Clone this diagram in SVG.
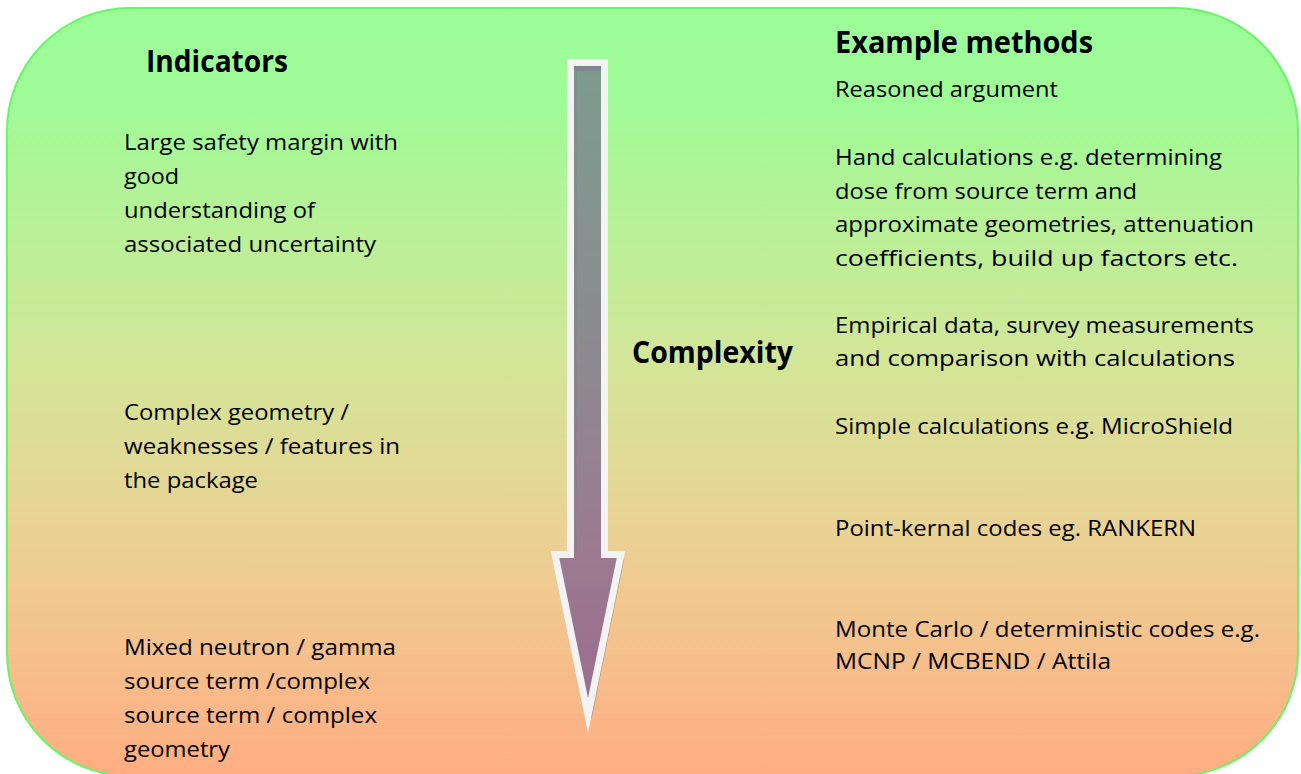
<svg xmlns="http://www.w3.org/2000/svg" width="1301" height="774" viewBox="0 0 1301 774">
  <defs>
    <linearGradient id="bg" x1="0" y1="8" x2="0" y2="776" gradientUnits="userSpaceOnUse">
      <stop offset="0" stop-color="#9bfd97"/>
      <stop offset="0.12" stop-color="#9ffb97"/>
      <stop offset="0.45" stop-color="#d2e698"/>
      <stop offset="0.7" stop-color="#ecd094"/>
      <stop offset="1" stop-color="#ffad82"/>
    </linearGradient>
    <linearGradient id="arrowFill" x1="0" y1="66" x2="0" y2="700" gradientUnits="userSpaceOnUse">
      <stop offset="0" stop-color="#7e9b8f"/>
      <stop offset="0.5" stop-color="#8e8890"/>
      <stop offset="0.8" stop-color="#9c7891"/>
      <stop offset="1" stop-color="#996e8d"/>
    </linearGradient>
    <style>
      .t { font-family: "Open Sans", "Liberation Sans", sans-serif; font-size: 21px; fill: #000; }
      .h { font-family: "Open Sans", "Liberation Sans", sans-serif; font-size: 30px; font-weight: bold; fill: #000; }
    </style>
  </defs>

  <g id="panel">
    <rect x="7" y="8" width="1291" height="768" rx="123" ry="123" fill="url(#bg)" stroke="#66f666" stroke-width="2"/>
  </g>

  <g id="complexity-arrow">
    <polygon points="574,66.5 608,66.5 608,558 624.5,558 591.5,719 558.5,558 574,558" fill="#5a6a5a" opacity="0.45"/>
    <polygon points="570.5,62.5 604.5,62.5 604.5,554.5 621,554.5 588,715.5 555,554.5 570.5,554.5" fill="url(#arrowFill)" stroke="#f3f3f3" stroke-width="7" stroke-linejoin="miter" stroke-miterlimit="10"/>
    <rect x="574" y="66" width="27" height="5" fill="#7f8090" opacity="0.8"/>
    <rect x="574" y="66" width="2.5" height="488" fill="#7f8090" opacity="0.4"/>
  </g>

  <g id="indicators">
    <text class="h" x="146" y="72" textLength="142" lengthAdjust="spacingAndGlyphs">Indicators</text>
  </g>
  <g id="indicator-1">
    <text class="t" x="124" y="150" textLength="274" lengthAdjust="spacingAndGlyphs">Large safety margin with</text>
    <text class="t" x="124" y="184" textLength="55" lengthAdjust="spacingAndGlyphs">good</text>
    <text class="t" x="124" y="218" textLength="191" lengthAdjust="spacingAndGlyphs">understanding of</text>
    <text class="t" x="124" y="252" textLength="252" lengthAdjust="spacingAndGlyphs">associated uncertainty</text>
  </g>
  <g id="indicator-2">
    <text class="t" x="124" y="420" textLength="225" lengthAdjust="spacingAndGlyphs">Complex geometry /</text>
    <text class="t" x="124" y="454" textLength="276" lengthAdjust="spacingAndGlyphs">weaknesses / features in</text>
    <text class="t" x="124" y="488" textLength="134" lengthAdjust="spacingAndGlyphs">the package</text>
  </g>
  <g id="indicator-3">
    <text class="t" x="124" y="655" textLength="272" lengthAdjust="spacingAndGlyphs">Mixed neutron / gamma</text>
    <text class="t" x="124" y="689" textLength="246" lengthAdjust="spacingAndGlyphs">source term /complex</text>
    <text class="t" x="124" y="723" textLength="253" lengthAdjust="spacingAndGlyphs">source term / complex</text>
    <text class="t" x="124" y="757" textLength="106" lengthAdjust="spacingAndGlyphs">geometry</text>
  </g>

  <g id="complexity">
    <text class="h" x="632" y="363" textLength="161" lengthAdjust="spacingAndGlyphs">Complexity</text>
  </g>

  <g id="example-methods">
    <text class="h" x="835" y="53" textLength="258" lengthAdjust="spacingAndGlyphs">Example methods</text>
  </g>
  <g id="method-1">
    <text class="t" x="835" y="97" textLength="223" lengthAdjust="spacingAndGlyphs">Reasoned argument</text>
  </g>
  <g id="method-2">
    <text class="t" x="835" y="165" textLength="387" lengthAdjust="spacingAndGlyphs">Hand calculations e.g. determining</text>
    <text class="t" x="835" y="199" textLength="302" lengthAdjust="spacingAndGlyphs">dose from source term and</text>
    <text class="t" x="835" y="232" textLength="419" lengthAdjust="spacingAndGlyphs">approximate geometries, attenuation</text>
    <text class="t" x="835" y="266" textLength="403" lengthAdjust="spacingAndGlyphs">coefficients, build up factors etc.</text>
  </g>
  <g id="method-3">
    <text class="t" x="835" y="333" textLength="419" lengthAdjust="spacingAndGlyphs">Empirical data, survey measurements</text>
    <text class="t" x="835" y="366" textLength="400" lengthAdjust="spacingAndGlyphs">and comparison with calculations</text>
  </g>
  <g id="method-4">
    <text class="t" x="835" y="434" textLength="398" lengthAdjust="spacingAndGlyphs">Simple calculations e.g. MicroShield</text>
  </g>
  <g id="method-5">
    <text class="t" x="835" y="536" textLength="361" lengthAdjust="spacingAndGlyphs">Point-kernal codes eg. RANKERN</text>
  </g>
  <g id="method-6">
    <text class="t" x="835" y="637" textLength="425" lengthAdjust="spacingAndGlyphs">Monte Carlo / deterministic codes e.g.</text>
    <text class="t" x="835" y="669" textLength="276" lengthAdjust="spacingAndGlyphs">MCNP / MCBEND / Attila</text>
  </g>

  <g id="connectors"></g>
</svg>
